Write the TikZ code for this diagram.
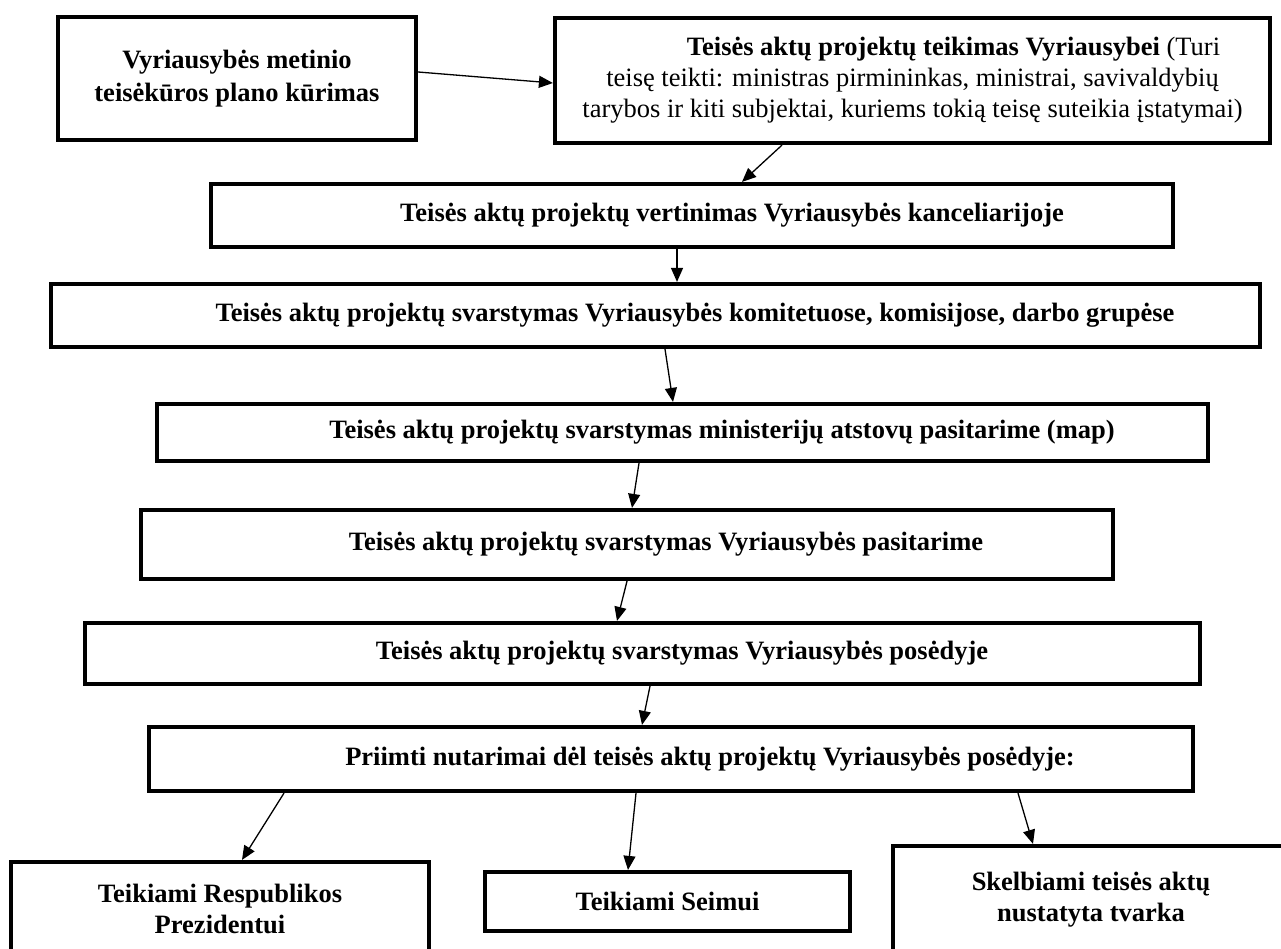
\documentclass[tikz,border=0pt]{standalone}
\usepackage{fontspec}
\setmainfont{Liberation Serif}
\usetikzlibrary{arrows.meta}
\begin{document}
\begin{tikzpicture}[x=1pt,y=-1pt,
  box/.style={draw=black, line width=4.2pt, rectangle, inner sep=0pt, fill=none,
    font=\fontsize{26.5}{31}\selectfont},
  arr/.style={-{Triangle[length=14pt,width=12pt]}, line width=1.3pt}]
\clip (0,0) rectangle (1281,949);
\fill[white] (0,0) rectangle (1281,949);

\node[box, minimum width=358pt, minimum height=123pt, align=center,
  font=\fontsize{26.5}{33}\selectfont\bfseries] (b1) at (237,78.5)
  {Vyriausybės metinio\\teisėkūros plano kūrimas};
\node[box, minimum width=715pt, minimum height=125pt, align=center] (b2) at (912.5,80.5)
  {\hspace*{82pt}\textbf{Teisės aktų projektų teikimas Vyriausybei} (Turi\\
   teisę teikti: ministras pirmininkas, ministrai, savivaldybių\\
   tarybos ir kiti subjektai, kuriems tokią teisę suteikia įstatymai)};
\node[box, minimum width=962pt, minimum height=63pt, font=\fontsize{26.5}{31}\selectfont\bfseries] (b3) at (692,215.5)
  {\hspace*{80pt}Teisės aktų projektų vertinimas Vyriausybės kanceliarijoje};
\node[box, minimum width=1209pt, minimum height=63pt, font=\fontsize{26.5}{31}\selectfont\bfseries] (b4) at (655.5,315.5)
  {\hspace*{79pt}Teisės aktų projektų svarstymas Vyriausybės komitetuose, komisijose, darbo grupėse};
\node[box, minimum width=1051pt, minimum height=57pt, font=\fontsize{26.5}{31}\selectfont\bfseries] (b5) at (682.5,432.5)
  {\hspace*{79pt}Teisės aktų projektų svarstymas ministerijų atstovų pasitarime (map)};
\node[box, minimum width=972pt, minimum height=69pt, font=\fontsize{26.5}{31}\selectfont\bfseries] (b6) at (627,544.5)
  {\hspace*{78pt}Teisės aktų projektų svarstymas Vyriausybės pasitarime};
\node[box, minimum width=1115pt, minimum height=61pt, font=\fontsize{26.5}{31}\selectfont\bfseries] (b7) at (642.5,653.5)
  {\hspace*{79pt}Teisės aktų projektų svarstymas Vyriausybės posėdyje};
\node[box, minimum width=1044pt, minimum height=64pt, font=\fontsize{26.5}{31}\selectfont\bfseries] (b8) at (671,759)
  {\hspace*{78pt}Priimti nutarimai dėl teisės aktų projektų Vyriausybės posėdyje:};
\node[box, minimum width=418pt, minimum height=94pt, align=center, font=\fontsize{26.5}{31}\selectfont\bfseries] (b9) at (220,909)
  {Teikiami Respublikos\\Prezidentui};
\node[box, minimum width=365pt, minimum height=59pt, font=\fontsize{26.5}{31}\selectfont\bfseries] (b10) at (667.5,901.5)
  {Teikiami Seimui};
\node[box, minimum width=396pt, minimum height=108pt, align=center, font=\fontsize{26.5}{31}\selectfont\bfseries] (b11) at (1091,900)
  {Skelbiami teisės aktų\\nustatyta tvarka};

\draw[arr] ([yshift=6.5pt]b1.east) -- ([yshift=-2.5pt]b2.west);
\draw[arr] ([xshift=-130.5pt]b2.south) -- ([xshift=50pt]b3.north);
\draw[arr] ([xshift=-15pt]b3.south) -- ([xshift=21.5pt]b4.north);
\draw[arr] ([xshift=9.5pt]b4.south) -- ([xshift=-9.5pt]b5.north);
\draw[arr] ([xshift=-43.5pt]b5.south) -- ([xshift=5pt]b6.north);
\draw[arr] (b6.south) -- ([xshift=-25.5pt]b7.north);
\draw[arr] ([xshift=7.5pt]b7.south) -- ([xshift=-29pt]b8.north);
\draw[arr] ([xshift=-387pt]b8.south) -- ([xshift=22pt]b9.north);
\draw[arr] ([xshift=-35pt]b8.south) -- ([xshift=-39.5pt]b10.north);
\draw[arr] ([xshift=347pt]b8.south) -- ([xshift=-58pt]b11.north);
\end{tikzpicture}
\end{document}
